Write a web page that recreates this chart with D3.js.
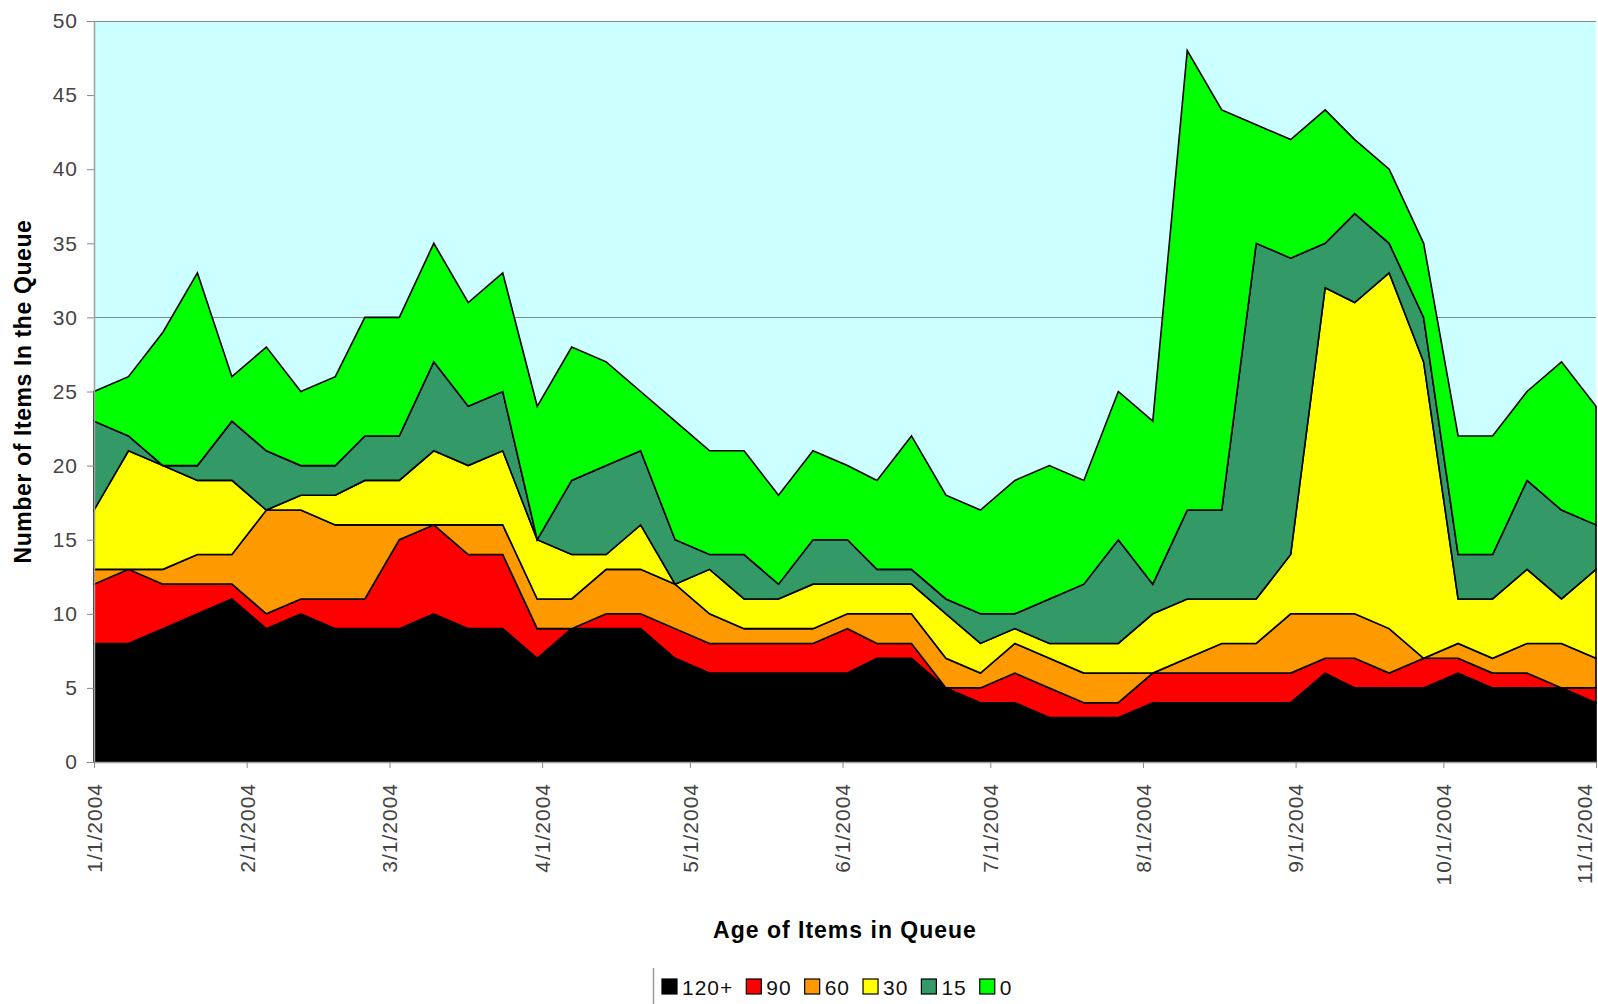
<!DOCTYPE html>
<html>
<head>
<meta charset="utf-8">
<script src="https://cdn.jsdelivr.net/npm/d3@7"></script>
<style>
  html, body { margin: 0; padding: 0; background: #ffffff; }
  svg { display: block; }
  text { font-family: "Liberation Sans", Arial, sans-serif; }
</style>
</head>
<body>
<svg id="chart" width="1598" height="1004"></svg>
<script>
// ---------------- DATA ----------------
const dates = [
  "2004-01-01","2004-01-08","2004-01-15","2004-01-22","2004-01-29","2004-02-05","2004-02-12","2004-02-19",
  "2004-02-25","2004-03-03","2004-03-10","2004-03-17","2004-03-24","2004-03-31","2004-04-07","2004-04-14",
  "2004-04-21","2004-04-28","2004-05-05","2004-05-12","2004-05-19","2004-05-26","2004-06-02","2004-06-08",
  "2004-06-15","2004-06-22","2004-06-29","2004-07-06","2004-07-13","2004-07-20","2004-07-27","2004-08-03",
  "2004-08-10","2004-08-17","2004-08-24","2004-08-31","2004-09-07","2004-09-13","2004-09-20","2004-09-27",
  "2004-10-04","2004-10-11","2004-10-18","2004-10-25","2004-11-01"
];
const age120 = [8,8,9,10,11,9,10,9,9,9,10,9,9,7,9,9,9,7,6,6,6,6,6,7,7,5,4,4,3,3,3,4,4,4,4,4,6,5,5,5,6,5,5,5,4];
const age90  = [4,5,3,2,1,1,1,2,2,6,6,5,5,2,0,1,1,2,2,2,2,2,3,1,1,0,1,2,2,1,1,2,2,2,2,2,1,2,1,2,1,1,1,0,1];
const age60  = [1,0,1,2,2,7,6,5,5,1,0,2,2,2,2,3,3,3,2,1,1,1,1,2,2,2,1,2,2,2,2,0,1,2,2,4,3,3,3,0,1,1,2,3,2];
const age30  = [4,8,7,5,5,0,1,2,3,3,5,4,5,4,3,1,3,0,3,2,2,3,2,2,2,3,2,1,1,2,2,4,4,3,3,4,22,21,24,20,3,4,5,3,6];
const age15  = [6,1,0,1,4,4,2,2,3,3,6,4,4,0,5,6,5,3,1,3,1,3,3,1,1,1,2,1,3,4,7,2,6,6,24,20,3,6,2,3,3,3,6,6,3];
const age0   = [2,4,9,13,3,7,5,6,8,8,8,7,8,9,9,7,4,8,7,7,6,6,5,6,9,7,7,9,9,7,10,11,31,27,8,8,9,5,5,5,8,8,6,10,8];

const seriesKeys = ["120+","90","60","30","15","0"];
const seriesColors = ["#000000","#FF0000","#FF9900","#FFFF00","#339966","#00FF00"];
const yTicks = [0,5,10,15,20,25,30,35,40,45,50];
const yGrid = [30,50];
const xTickLabels = ["2004-01-01","2004-02-01","2004-03-01","2004-04-01","2004-05-01","2004-06-01",
                     "2004-07-01","2004-08-01","2004-09-01","2004-10-01","2004-11-01"];
const xDomain = ["2004-01-01","2004-11-01"];
const yDomain = [0, 50];
const xTitle = "Age of Items in Queue";
const yTitle = "Number of Items In the Queue";

// ---------------- BUILD ----------------
const parse = d3.utcParse("%Y-%m-%d");
const fmt = d3.utcFormat("%-m/%-d/%Y");
const seriesValues = [age120, age90, age60, age30, age15, age0];
const rows = dates.map((d, i) => {
  const r = { date: parse(d) };
  seriesKeys.forEach((k, j) => r[k] = seriesValues[j][i]);
  return r;
});

const W = 1598, H = 1004;
const plot = { left: 94, right: 1596, top: 21, bottom: 762 };

const svg = d3.select("#chart");

const x = d3.scaleUtc().domain(xDomain.map(parse)).range([plot.left, plot.right]);
const y = d3.scaleLinear().domain(yDomain).range([plot.bottom, plot.top]);

// plot background
svg.append("rect")
  .attr("x", plot.left).attr("y", plot.top)
  .attr("width", plot.right - plot.left).attr("height", plot.bottom - plot.top)
  .attr("fill", "#CCFFFF");

// gridlines
svg.append("g").selectAll("line").data(yGrid).join("line")
  .attr("x1", plot.left).attr("x2", plot.right)
  .attr("y1", d => Math.round(y(d)) + 0.5).attr("y2", d => Math.round(y(d)) + 0.5)
  .attr("stroke", "#7f8c8c").attr("stroke-width", 1.2);

// stacked areas
const stack = d3.stack().keys(seriesKeys);
const layers = stack(rows);
const area = d3.area()
  .x(d => x(d.data.date))
  .y0(d => y(d[0]))
  .y1(d => y(d[1]))
  .curve(d3.curveLinear);

svg.append("g").selectAll("path").data(layers).join("path")
  .attr("d", area)
  .attr("fill", (d, i) => seriesColors[i])
  .attr("stroke", "#000")
  .attr("stroke-width", 1.6)
  .attr("stroke-linejoin", "miter");

// y axis
const yAxis = d3.axisLeft(y).tickValues(yTicks).tickSize(7).tickPadding(9).tickSizeOuter(0);
const gy = svg.append("g").attr("transform", `translate(${plot.left},0)`).call(yAxis);
gy.select(".domain").attr("stroke", "#a0a0a0").attr("stroke-width", 1.5);
gy.selectAll(".tick line").attr("stroke", "#888");
gy.selectAll(".tick text")
  .attr("fill", "#444")
  .style("font-size", "21px")
  .style("letter-spacing", "1px");

// x axis
const xAxis = d3.axisBottom(x).tickValues(xTickLabels.map(parse)).tickFormat(fmt).tickSize(6).tickSizeOuter(0);
const gx = svg.append("g").attr("transform", `translate(0,${plot.bottom})`).call(xAxis);
gx.select(".domain").attr("stroke", "#a0a0a0").attr("stroke-width", 1.5);
gx.selectAll(".tick line").attr("stroke", "#888");
gx.selectAll(".tick text")
  .attr("fill", "#444")
  .style("font-size", "21px")
  .style("letter-spacing", "1px")
  .style("text-anchor", "end")
  .attr("y", 0)
  .attr("dy", "0.35em")
  .attr("x", -21)
  .attr("transform", function(d) {
    const px = x(d);
    const shift = Math.min(0, (W - 14) - px);
    return `translate(${shift},0) rotate(-90)`;
  });

// axis titles
svg.append("text")
  .attr("transform", `translate(23,${(plot.top + plot.bottom) / 2}) rotate(-90)`)
  .attr("text-anchor", "middle")
  .attr("dominant-baseline", "central")
  .style("font-size", "23px")
  .style("font-weight", "bold")
  .style("letter-spacing", "0.6px")
  .text(yTitle);

svg.append("text")
  .attr("x", 845).attr("y", 930)
  .attr("text-anchor", "middle")
  .attr("dominant-baseline", "central")
  .style("font-size", "23px")
  .style("font-weight", "bold")
  .style("letter-spacing", "1px")
  .text(xTitle);

// legend
const legend = svg.append("g");
legend.append("line")
  .attr("x1", 653.5).attr("x2", 653.5).attr("y1", 968).attr("y2", H)
  .attr("stroke", "#999").attr("stroke-width", 1.5);
let lx = 662;
const ly = 987;
seriesKeys.forEach((k, i) => {
  legend.append("rect")
    .attr("x", lx).attr("y", ly - 8)
    .attr("width", 15).attr("height", 15)
    .attr("fill", seriesColors[i])
    .attr("stroke", "#000").attr("stroke-width", 1.2);
  const t = legend.append("text")
    .attr("x", lx + 20).attr("y", ly)
    .attr("dominant-baseline", "central")
    .attr("fill", "#111")
    .style("font-size", "21px")
    .style("letter-spacing", "1px")
    .text(k);
  lx += 20 + t.node().getComputedTextLength() + 13;
});
</script>
</body>
</html>
